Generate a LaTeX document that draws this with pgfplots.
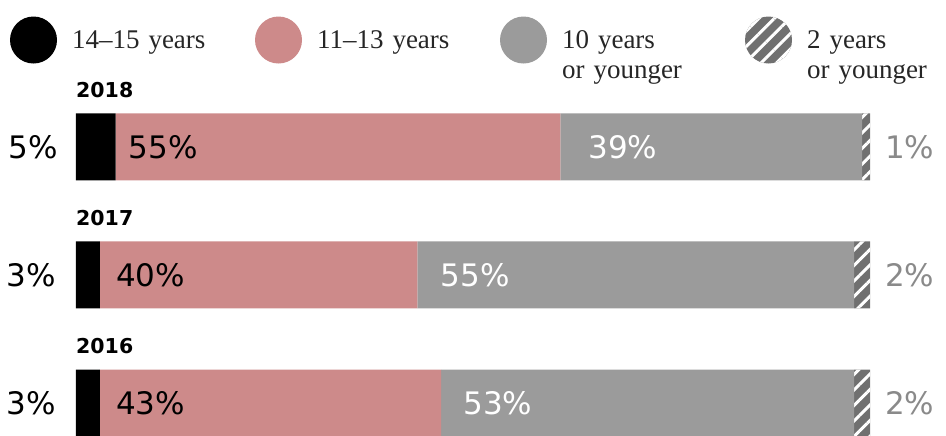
\documentclass[border=0pt]{standalone}
\usepackage{fontspec}
\setmainfont{Liberation Serif}
\newfontfamily\numfont{DejaVu Sans}
\usepackage{pgfplots}
\pgfplotsset{compat=1.18}
\usetikzlibrary{patterns.meta}
\definecolor{cpink}{HTML}{CD8A8A}
\definecolor{cgray}{HTML}{9B9B9B}
\definecolor{chatch}{HTML}{707070}
\definecolor{clab}{HTML}{8A8A8A}
\definecolor{ctext}{HTML}{262626}
\pgfplotsset{circ legend/.style={legend image code/.code={\fill[##1] (23.5pt,0pt) circle[radius=23.5pt];}}}
\tikzset{lbl/.style={inner sep=0pt, font=\numfont\fontsize{31}{34}\selectfont},
  yr/.style={anchor=base west, inner sep=0pt, font=\numfont\bfseries\fontsize{20.5}{24}\selectfont}}
\begin{document}
\begin{tikzpicture}
\begin{axis}[
  name=ax,
  scale only axis,
  width=794pt, height=435pt,
  xmin=0, xmax=100,
  ymin=-0.25, ymax=3.148,
  xbar stacked,
  bar width=67pt,
  hide axis,
  clip=false,
  legend columns=4,
  legend style={draw=none, fill=none, inner sep=0pt, outer sep=0pt,
    at={(rel axis cs:-0.0831,0.908)}, anchor=west,
    font=\fontsize{27}{30}\selectfont, text=ctext,
    cells={anchor=west},
    nodes={text width=176pt, align=left, inner sep=0pt},
    /tikz/every odd column/.append style={column sep=15pt},
    /tikz/every even column/.append style={column sep=7pt}},
]
\addplot[fill=black, draw=none, circ legend] coordinates {(5,2) (3,1) (3,0)};
\addlegendentry{14--15 years}
\addplot[fill=cpink, draw=none, circ legend] coordinates {(56,2) (40,1) (43,0)};
\addlegendentry{11--13 years}
\addplot[fill=cgray, draw=none, circ legend] coordinates {(38,2) (55,1) (52,0)};
\addlegendentry{10 years\\or younger}
\addplot[fill=chatch, draw=none, postaction={pattern={Lines[angle=45,distance=11pt,line width=3pt]}, pattern color=white}, circ legend] coordinates {(1,2) (2,1) (2,0)};
\addlegendentry{2 years\\or younger}

\coordinate (a0) at (axis cs:0,2);
\coordinate (b0) at (axis cs:0,1);
\coordinate (c0) at (axis cs:0,0);
\coordinate (a1) at (axis cs:5,2);
\coordinate (a2) at (axis cs:61,2);
\coordinate (b1) at (axis cs:3,1);
\coordinate (b2) at (axis cs:43,1);
\coordinate (c1) at (axis cs:3,0);
\coordinate (c2) at (axis cs:46,0);
\coordinate (a9) at (axis cs:100,2);
\coordinate (b9) at (axis cs:100,1);
\coordinate (c9) at (axis cs:100,0);
\end{axis}

\node[yr] at ([yshift=49.5pt]a0) {2018};
\node[yr] at ([yshift=49.5pt]b0) {2017};
\node[yr] at ([yshift=49.5pt]c0) {2016};

\node[lbl, anchor=east] at ([xshift=-18pt]a0) {5\%};
\node[lbl, anchor=east] at ([xshift=-20pt]b0) {3\%};
\node[lbl, anchor=east] at ([xshift=-20pt]c0) {3\%};
\node[lbl, anchor=west] at ([xshift=13pt]a1) {55\%};
\node[lbl, anchor=west, text=white] at ([xshift=28pt]a2) {39\%};
\node[lbl, anchor=west] at ([xshift=16pt]b1) {40\%};
\node[lbl, anchor=west, text=white] at ([xshift=23pt]b2) {55\%};
\node[lbl, anchor=west] at ([xshift=16pt]c1) {43\%};
\node[lbl, anchor=west, text=white] at ([xshift=22pt]c2) {53\%};
\node[lbl, anchor=west, text=clab] at ([xshift=15pt]a9) {1\%};
\node[lbl, anchor=west, text=clab] at ([xshift=15pt]b9) {2\%};
\node[lbl, anchor=west, text=clab] at ([xshift=15pt]c9) {2\%};

\pgfresetboundingbox
\path[use as bounding box] ([xshift=-76pt]ax.south west) rectangle ([xshift=76pt]ax.north east);
\end{tikzpicture}
\end{document}
